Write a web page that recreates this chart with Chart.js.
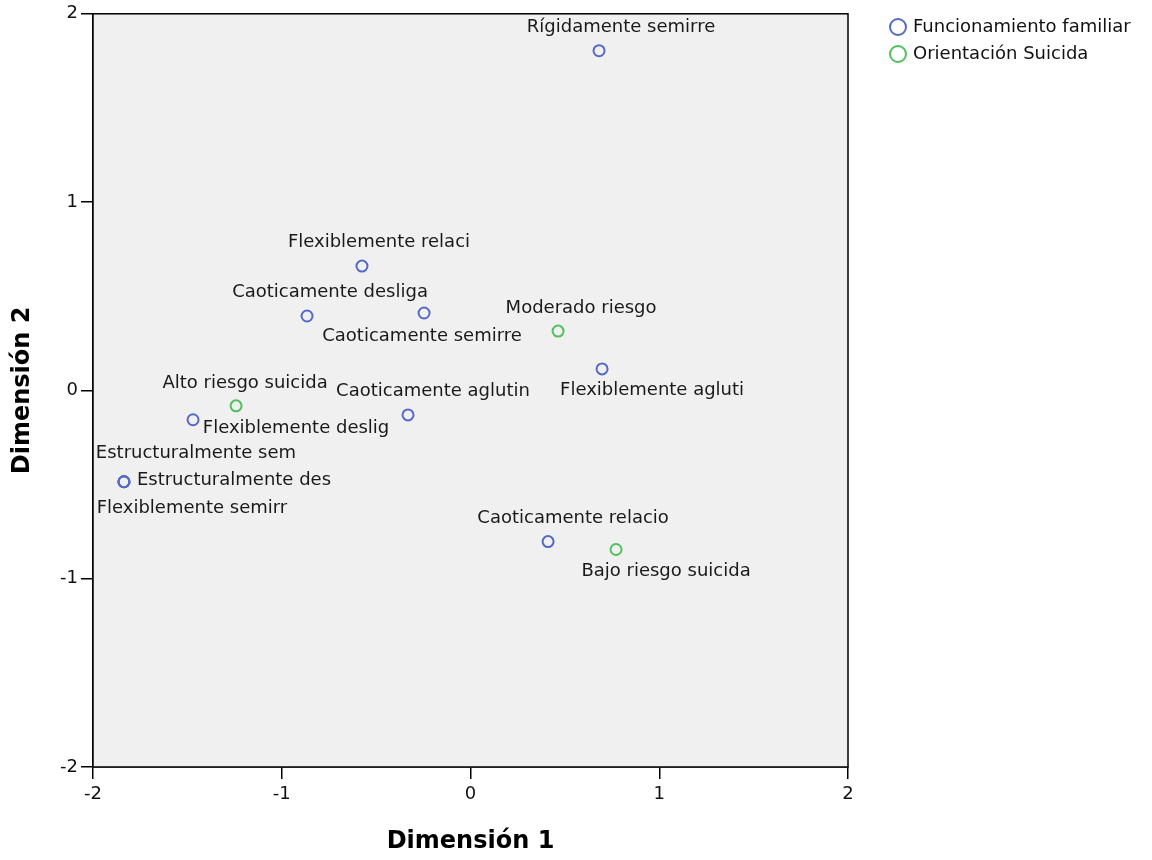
<!DOCTYPE html>
<html>
<head>
<meta charset="utf-8">
<script src="https://cdn.jsdelivr.net/npm/chart.js@4/dist/chart.umd.min.js"></script>
<style>
  html, body { margin: 0; padding: 0; background: #fff; }
  #wrap { width: 1152px; height: 860px; }
</style>
</head>
<body>
<div id="wrap"><canvas id="Biplot" width="1152" height="860"></canvas></div>
<script>
// Funcionamiento familiar (categoria, dimension 1, dimension 2)
const famLabels = ['Rígidamente semirre', 'Flexiblemente relaci', 'Caoticamente desliga',
    'Caoticamente semirre', 'Flexiblemente agluti', 'Caoticamente aglutin',
    'Flexiblemente deslig', 'Estructuralmente sem', 'Estructuralmente des',
    'Flexiblemente semirr', 'Caoticamente relacio'];
const famX = [0.681, -0.575, -0.866, -0.246, 0.697, -0.331, -1.470, -1.836, -1.836, -1.836, 0.411];
const famY = [1.804, 0.660, 0.395, 0.411, 0.114, -0.130, -0.156, -0.485, -0.485, -0.485, -0.803];

// Orientacion Suicida
const suiLabels = ['Moderado riesgo', 'Alto riesgo suicida', 'Bajo riesgo suicida'];
const suiX = [0.464, -1.242, 0.771];
const suiY = [0.315, -0.082, -0.845];

const seriesNames = ['Funcionamiento familiar', 'Orientación Suicida'];
const tickValues = [-2, -1, 0, 1, 2];
const axisTitles = ['Dimensión 1', 'Dimensión 2'];

// where each point label sits, relative to its point (pixels)
const famLabelOffsets = [[22, -23], [17, -24], [23, -24], [-2, 23], [50, 21], [25, -24],
    [103, 9], [72, -28], [110, -1], [68, 27], [25, -23]];
const suiLabelOffsets = [[23, -23], [9, -23], [50, 22]];

const blue = '#5569c6';
const green = '#4fc05c';
const FONT = '"DejaVu Sans", sans-serif';

function toPoints(xs, ys){
    var pts = [];
    for(var i = 0; i < xs.length; i++){
        pts.push({x: xs[i], y: ys[i]});
    }
    return pts;
}

const plotDecor = {
    id: 'plotDecor',
    beforeDatasetsDraw(chart){
        const c = chart.ctx;
        const a = chart.chartArea;
        c.save();
        c.fillStyle = '#f0f0f0';
        c.fillRect(a.left, a.top, a.right - a.left, a.bottom - a.top);
        c.strokeStyle = '#000';
        c.lineWidth = 1.5;
        c.strokeRect(a.left, a.top, a.right - a.left, a.bottom - a.top);
        c.restore();
    },
    afterDatasetsDraw(chart){
        const c = chart.ctx;
        const a = chart.chartArea;
        c.save();
        c.font = '18px ' + FONT;
        c.fillStyle = '#1a1a1a';
        c.textAlign = 'center';
        c.textBaseline = 'middle';
        const offsets = [famLabelOffsets, suiLabelOffsets];
        const labels = [famLabels, suiLabels];
        chart.data.datasets.forEach(function(ds, d){
            const meta = chart.getDatasetMeta(d);
            meta.data.forEach(function(el, i){
                c.fillText(labels[d][i], el.x + offsets[d][i][0], el.y + offsets[d][i][1]);
            });
        });

        // axis titles
        c.font = 'bold 24px ' + FONT;
        c.fillStyle = '#000';
        c.fillText(axisTitles[0], (a.left + a.right) / 2, 842);
        c.translate(23, (a.top + a.bottom) / 2);
        c.rotate(-Math.PI / 2);
        c.fillText(axisTitles[1], 0, 0);
        c.restore();

        // legend
        c.save();
        c.font = '18px ' + FONT;
        c.textAlign = 'left';
        c.textBaseline = 'middle';
        c.lineWidth = 2;
        [blue, green].forEach(function(col, i){
            const y = 27 + i * 27;
            c.strokeStyle = col;
            c.beginPath();
            c.arc(898, y, 8, 0, Math.PI * 2);
            c.stroke();
            c.fillStyle = '#111';
            c.fillText(seriesNames[i], 913, y);
        });
        c.restore();
    }
};

const ctx = document.getElementById('Biplot');
const myChart = new Chart(ctx, {
    type: 'scatter',
    data: {
        datasets: [{
            label: seriesNames[0],
            data: toPoints(famX, famY),
            borderColor: blue,
            backgroundColor: 'rgba(0,0,0,0)',
            pointRadius: 5.5,
            borderWidth: 2
        }, {
            label: seriesNames[1],
            data: toPoints(suiX, suiY),
            borderColor: green,
            backgroundColor: 'rgba(0,0,0,0)',
            pointRadius: 5.5,
            borderWidth: 2
        }]
    },
    options: {
        responsive: false,
        animation: false,
        events: [],
        layout: {
            padding: { top: 12, right: 304, bottom: 0, left: 0 }
        },
        scales: {
            x: {
                type: 'linear',
                min: -2,
                max: 2,
                afterBuildTicks: function(s){ s.ticks = tickValues.map(function(v){ return {value: v}; }); },
                afterFit: function(s){ s.height = 93; },
                grid: { drawOnChartArea: false, drawTicks: true, tickLength: 12, color: '#000', lineWidth: 1.5 },
                border: { display: true, color: '#000', width: 1.5 },
                ticks: { color: '#111', font: { family: FONT, size: 18 }, padding: 5, maxRotation: 0 }
            },
            y: {
                type: 'linear',
                min: -2,
                max: 2,
                afterBuildTicks: function(s){ s.ticks = tickValues.map(function(v){ return {value: v}; }); },
                afterFit: function(s){ s.width = 93; },
                grid: { drawOnChartArea: false, drawTicks: true, tickLength: 12, color: '#000', lineWidth: 1.5 },
                border: { display: true, color: '#000', width: 1.5 },
                ticks: { color: '#111', font: { family: FONT, size: 18 }, padding: 3 }
            }
        },
        plugins: {
            legend: { display: false },
            tooltip: { enabled: false }
        }
    },
    plugins: [plotDecor]
});
</script>
</body>
</html>
